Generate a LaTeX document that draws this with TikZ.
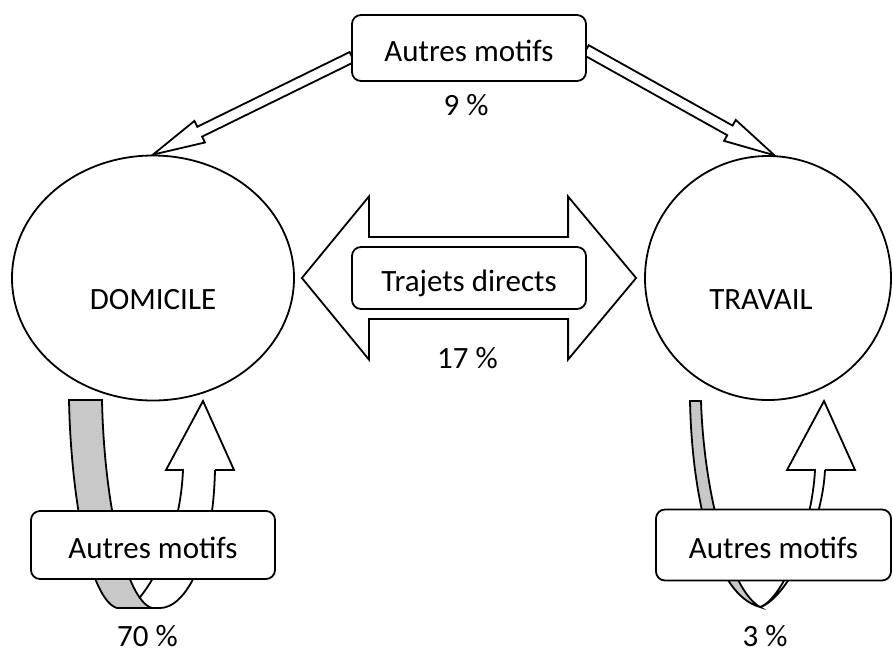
\documentclass[tikz,border=0pt]{standalone}
\usepackage{fontspec}
\setmainfont{Carlito}
\usepackage{tikz}
\usetikzlibrary{calc,shapes.geometric}
\definecolor{bandgray}{HTML}{C8C8C8}

% hollow arrow: start, tip, half shaft, half head, head length
\newcommand{\hollowarrow}[5]{%
  \coordinate (ha-h) at ($(#2)!#5!(#1)$);
  \draw[fill=white] ($(#1)!#3!90:(#2)$) -- ($(ha-h)!#3!90:(#2)$) -- ($(ha-h)!#4!90:(#2)$)
    -- (#2) -- ($(ha-h)!#4!-90:(#2)$) -- ($(ha-h)!#3!-90:(#2)$) -- ($(#1)!#3!-90:(#2)$) -- cycle;
}

\begin{document}
\begin{tikzpicture}[x=1pt,y=-1pt,line width=1.8pt,
  every node/.style={font=\fontsize{31}{37}\selectfont},
  place/.style={draw,ellipse,inner sep=0pt},
  motif/.style={draw,fill=white,rounded corners=9pt,minimum width=234pt,minimum height=66pt,
    inner sep=0pt,text height=27pt,text depth=0pt}]
  \useasboundingbox (0,0) rectangle (893,657);

  % places
  \node[place,minimum width=282pt,minimum height=245pt] (dom) at (153,278) {};
  \node (domlabel) at (153,300) {DOMICILE};
  \node[place,minimum width=246pt,minimum height=244pt] (trav) at (768,278) {};
  \node (travlabel) at (761,300) {TRAVAIL};

  % other motives on top
  \coordinate (a1) at (352,57);
  \coordinate (a2) at (586,50);
  \hollowarrow{a1}{dom.north}{5.5pt}{12pt}{52pt}
  \hollowarrow{a2}{trav.87}{5.5pt}{12pt}{51pt}
  \node[motif] (autres) at (469,48) {Autres motifs};
  \node (p9) at (466,105) {9 \%};

  % direct trips
  \coordinate (dl) at ($(dom.east)+(7,0)$);
  \coordinate (dr) at ($(trav.west)+(-8,0)$);
  \draw[fill=white] (dl) -- ($(dl)+(67,-81.5)$) -- ($(dl)+(67,-41)$) -- ($(dr)+(-68,-41)$)
    -- ($(dr)+(-68,-81.5)$) -- (dr) -- ($(dr)+(-68,81.5)$) -- ($(dr)+(-68,41)$)
    -- ($(dl)+(67,41)$) -- ($(dl)+(67,81.5)$) -- cycle;
  \node[motif,minimum height=62pt] (trajets) at (469,278) {Trajets directs};
  \node (p17) at (467.5,358) {17 \%};

  % loop at home
  \draw[fill=white] (215,470) -- (234,470) -- (203,401) -- (166,470) -- (183,470)
    .. controls (180,540) and (150,590) .. (130,608) -- (160,608)
    .. controls (185,608) and (213,560) .. (215,470);
  \draw[fill=bandgray] (69,400) -- (102,400) .. controls (104,500) and (125,600) .. (152,608)
    -- (117,608) .. controls (90,600) and (71,500) .. (69,400) -- cycle;
  \node[motif,minimum width=244pt,minimum height=68pt] (autresdom) at (153,545) {Autres motifs};
  \node (p70) at (147.5,636) {70 \%};

  % loop at work
  \draw[fill=white] (825,470) -- (855,470) -- (824,401) -- (787,470) -- (815,470)
    .. controls (812,530) and (782,600) .. (760,607)
    .. controls (785,600) and (822,530) .. (825,470);
  \draw[fill=bandgray] (690,401) -- (701,401) .. controls (704,495) and (730,590) .. (760,607)
    .. controls (715,595) and (692,500) .. (690,401) -- cycle;
  \node[motif,minimum width=235pt,minimum height=71pt] (autrestrav) at (773.5,545) {Autres motifs};
  \node (p3) at (765,636) {3 \%};
\end{tikzpicture}
\end{document}
